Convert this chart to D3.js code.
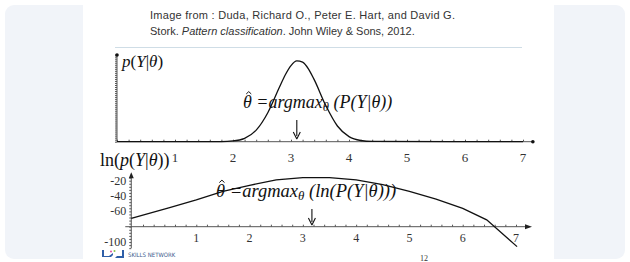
<!DOCTYPE html>
<html>
<head>
<meta charset="utf-8">
<script src="https://cdn.jsdelivr.net/npm/d3@7"></script>
<style>
  body { margin: 0; background: #fff; }
  svg { display: block; }
</style>
</head>
<body>
<svg></svg>
<script>
const width = 630
const height = 262

// likelihood p(Y|theta), relative height
const thetaTop = [0, 1.8, 2.0, 2.2, 2.4, 2.6, 2.8, 2.9, 3.0, 3.1, 3.2, 3.3, 3.4, 3.6, 3.8, 4.0, 4.2, 4.4, 7]
const pTop = [0, 0.002, 0.009, 0.042, 0.143, 0.358, 0.672, 0.824, 0.94, 0.997, 0.982, 0.90, 0.766, 0.446, 0.194, 0.063, 0.015, 0.003, 0]

// log-likelihood
const thetaBot = [-0.22, 0.5, 1, 1.5, 2, 2.5, 3, 3.5, 4, 4.5, 5, 5.5, 6, 6.45, 7.02]
const lnBot = [-69, -55, -45, -34, -26, -19, -16, -16, -19, -25, -34, -44, -56, -71, -106]

const xLabels = [1, 2, 3, 4, 5, 6, 7]
const yLabelsBot = [-20, -40, -60, -100]
const thetaHatTop = 3.1
const thetaHatBot = 3.17

const svg = d3.select('svg')
  .attr('width', width)
  .attr('height', height)

// page background
svg.append('rect')
  .attr('x', 5).attr('y', 5)
  .attr('width', 620).attr('height', 254)
  .attr('rx', 9)
  .attr('fill', '#f1f4f9')
svg.append('rect')
  .attr('x', 83).attr('y', 0)
  .attr('width', 471).attr('height', height)
  .attr('fill', '#fff')

// citation
const cite = svg.append('g')
  .style('font-family', 'Liberation Sans, Arial, sans-serif')
  .style('font-size', '11px')
  .attr('fill', '#333')
cite.append('text').attr('x', 150).attr('y', 19)
  .attr('textLength', 305)
  .attr('lengthAdjust', 'spacing')
  .text('Image from : Duda, Richard O., Peter E. Hart, and David G.')
const c2 = cite.append('text').attr('x', 150).attr('y', 35)
c2.append('tspan').text('Stork. ')
c2.append('tspan').style('font-style', 'italic').text('Pattern classification')
c2.append('tspan').text('. John Wiley & Sons, 2012.')

svg.append('line')
  .attr('x1', 115).attr('x2', 522)
  .attr('y1', 47.5).attr('y2', 47.5)
  .attr('stroke', '#cfdde6').attr('stroke-width', 1)

const serif = 'Liberation Serif, Times New Roman, serif'
const axisCol = '#555'

// ---------- top plot ----------
const xTop = d3.scaleLinear().domain([0, 7]).range([117, 523])
const yTop = d3.scaleLinear().domain([0, 1]).range([141.7, 60.7])

const gTop = svg.append('g')

const xAxisTop = gTop.append('g')
  .attr('transform', `translate(0,${yTop(0)})`)
  .call(d3.axisBottom(xTop)
    .tickValues(d3.range(0, 7.2, 0.2))
    .tickSize(-2)
    .tickFormat(''))
xAxisTop.select('.domain').attr('d', `M${xTop(0)},0H${xTop(7.17)}`)
xAxisTop.selectAll('path, line').attr('stroke', axisCol)
gTop.append('circle').attr('cx', xTop(7.17)).attr('cy', yTop(0)).attr('r', 1.8).attr('fill', '#111')

const yAxisTop = gTop.append('g')
  .attr('transform', `translate(${xTop(0)},0)`)
  .call(d3.axisLeft(yTop)
    .tickValues(d3.range(0, 1.08, 0.025))
    .tickSize(2)
    .tickFormat(''))
yAxisTop.select('.domain').attr('d', `M0,${yTop(0)}V${yTop(1.07)}`)
yAxisTop.selectAll('path, line').attr('stroke', axisCol)
gTop.append('circle').attr('cx', xTop(0)).attr('cy', yTop(1.07)).attr('r', 1.8).attr('fill', '#111')

gTop.selectAll('.xl')
  .data(xLabels)
  .enter()
  .append('text')
  .attr('x', d => xTop(d))
  .attr('y', yTop(0) + 20)
  .attr('text-anchor', 'middle')
  .style('font-family', serif)
  .style('font-size', '13px')
  .attr('fill', '#333')
  .text(d => d)

gTop.append('path')
  .datum(d3.zip(thetaTop, pTop))
  .attr('fill', 'none')
  .attr('stroke', '#111')
  .attr('stroke-width', 1.3)
  .attr('d', d3.line()
    .x(d => xTop(d[0]))
    .y(d => yTop(d[1]))
    .curve(d3.curveMonotoneX))

// ---------- bottom plot ----------
const xBot = d3.scaleLinear().domain([0, 7]).range([143, 516])
const yBot = d3.scaleLinear().domain([-80, -20]).range([226.7, 180.7])
const yAxisAt = thetaBot[0]

const gBot = svg.append('g')

const xAxisBot = gBot.append('g')
  .attr('transform', `translate(0,${yBot(-80)})`)
  .call(d3.axisBottom(xBot)
    .tickValues(d3.range(0, 7.2, 0.2))
    .tickSize(-2)
    .tickFormat(''))
xAxisBot.select('.domain').attr('d', `M${xBot(yAxisAt) - 6},0H${xBot(7.25)}`)
xAxisBot.selectAll('path, line').attr('stroke', axisCol)
gBot.append('path')
  .attr('d', `M${xBot(7.3)},${yBot(-80)}l-7,-2.5v5z`)
  .attr('fill', '#222')

const yAxisBot = gBot.append('g')
  .attr('transform', `translate(${xBot(yAxisAt)},0)`)
  .call(d3.axisLeft(yBot)
    .tickValues(d3.range(-108, -13, 4))
    .tickSize(2)
    .tickFormat(''))
yAxisBot.select('.domain').attr('d', `M0,${yBot(-108)}V${yBot(-11)}`)
yAxisBot.selectAll('path, line').attr('stroke', axisCol)
gBot.append('path')
  .attr('d', `M${xBot(yAxisAt)},${yBot(-9)}l-2.5,6h5z`)
  .attr('fill', '#222')

gBot.selectAll('.yl')
  .data(yLabelsBot)
  .enter()
  .append('text')
  .attr('x', xBot(yAxisAt) - 5)
  .attr('y', d => yBot(d) + 4)
  .attr('text-anchor', 'end')
  .style('font-family', serif)
  .style('font-size', '12px')
  .attr('fill', '#333')
  .text(d => d)

gBot.selectAll('.xl')
  .data(xLabels)
  .enter()
  .append('text')
  .attr('x', d => xBot(d))
  .attr('y', yBot(-80) + 15)
  .attr('text-anchor', 'middle')
  .style('font-family', serif)
  .style('font-size', '12px')
  .attr('fill', '#333')
  .text(d => d)

gBot.append('path')
  .datum(d3.zip(thetaBot, lnBot))
  .attr('fill', 'none')
  .attr('stroke', '#111')
  .attr('stroke-width', 1.3)
  .attr('d', d3.line()
    .x(d => xBot(d[0]))
    .y(d => yBot(d[1])))

// ---------- labels ----------
const pLab = svg.append('text')
  .attr('x', 122).attr('y', 67)
  .style('font-family', serif)
  .style('font-size', '17px')
  .style('font-style', 'italic')
  .attr('fill', '#111')
pLab.append('tspan').text('p')
pLab.append('tspan').style('font-style', 'normal').text('(')
pLab.append('tspan').text('Y')
pLab.append('tspan').style('font-style', 'normal').text('|')
pLab.append('tspan').text('θ')
pLab.append('tspan').style('font-style', 'normal').text(')')

const lnLab = svg.append('text')
  .attr('x', 100).attr('y', 166)
  .style('font-family', serif)
  .style('font-size', '18px')
  .attr('fill', '#111')
lnLab.append('tspan').text('ln(')
lnLab.append('tspan').style('font-style', 'italic').text('p')
lnLab.append('tspan').text('(')
lnLab.append('tspan').style('font-style', 'italic').text('Y')
lnLab.append('tspan').text('|')
lnLab.append('tspan').style('font-style', 'italic').text('θ')
lnLab.append('tspan').text('))')

function argmaxLabel(x, y, size, inner) {
  const g = svg.append('g')
    .style('font-family', serif)
    .style('font-style', 'italic')
    .style('font-size', size + 'px')
    .attr('fill', '#111')
  const t = g.append('text').attr('x', x).attr('y', y)
  t.append('tspan').text('θ')
  t.append('tspan').text(' =argmax')
  t.append('tspan').attr('dy', 3).style('font-size', (size * 0.7) + 'px').text('θ')
  t.append('tspan').attr('dy', -3).text(' (' + inner + ')')
  // hat over theta
  g.append('path')
    .attr('d', `M${x + size * 0.18},${y - size * 0.78}l${size * 0.14},${-size * 0.13}l${size * 0.14},${size * 0.13}`)
    .attr('fill', 'none')
    .attr('stroke', '#111')
    .attr('stroke-width', 1)
  return g
}
argmaxLabel(243, 108, 18, 'P(Y|θ)')
argmaxLabel(216, 197, 18.5, 'ln(P(Y|θ))')

// arrows at the maximum
function downArrow(x, y1, y2) {
  svg.append('line')
    .attr('x1', x).attr('x2', x).attr('y1', y1).attr('y2', y2 - 3)
    .attr('stroke', '#111').attr('stroke-width', 1.1)
  svg.append('path')
    .attr('d', `M${x},${y2}l-3.5,-7M${x},${y2}l3.5,-7`)
    .attr('stroke', '#111').attr('stroke-width', 1.1).attr('fill', 'none')
}
downArrow(xTop(thetaHatTop), 120, 139)
downArrow(xBot(thetaHatBot), 209, 225)

// footer logo
const logo = svg.append('g').attr('transform', 'translate(102,250)')
logo.append('path')
  .attr('d', 'M0,0v7h9l2,-2v-2l-4,3h-5v-6z M20,0v6h-5l-2,2h9v-8z')
  .attr('fill', '#2f5fa8')
logo.append('circle').attr('cx', 9).attr('cy', 1.5).attr('r', 1).attr('fill', '#e04fa0')
logo.append('circle').attr('cx', 12.5).attr('cy', 1).attr('r', 1).attr('fill', '#8bc34a')
logo.append('text')
  .attr('x', 26).attr('y', 7)
  .style('font-family', 'DejaVu Sans Condensed, DejaVu Sans, sans-serif')
  .style('font-size', '6px')
  .attr('fill', '#3a5a8c')
  .text('SKILLS NETWORK')

svg.append('text')
  .attr('x', 420).attr('y', 261)
  .style('font-family', serif)
  .style('font-size', '8px')
  .attr('fill', '#333')
  .text('12')
</script>
</body>
</html>
